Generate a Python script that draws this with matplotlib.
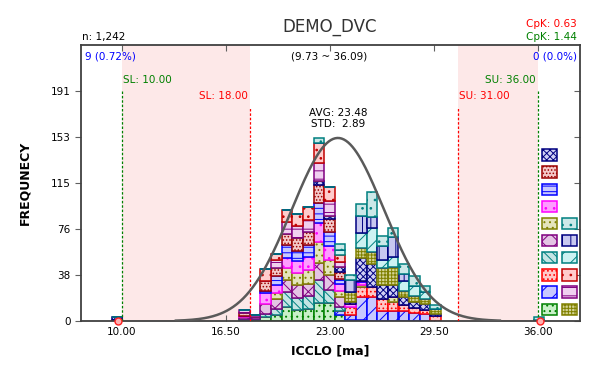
import numpy as np
import matplotlib
matplotlib.use("Agg")
import matplotlib.pyplot as plt
from matplotlib.patches import Rectangle

# histogram bins (centres)
bin_centers = [9.70, 17.65, 18.31, 18.98, 19.64, 20.30, 20.96, 21.63, 22.29, 22.95, 23.62,
               24.28, 24.94, 25.61, 26.27, 26.93, 27.60, 28.26, 28.92, 29.59, 36.05]
bin_width = 0.6625

# counts of each sub-group per bin
s01 = [2, 0, 0, 0, 0, 0, 0, 0, 3, 2, 4, 2, 19, 19, 12, 10, 7, 5, 5, 2, 1]
s02 = [0, 3, 0, 8, 7, 9, 11, 11, 15, 11, 6, 0, 0, 0, 0, 0, 0, 0, 0, 0, 0]
s03 = [0, 0, 0, 2, 7, 11, 8, 10, 17, 12, 4, 0, 1, 0, 0, 0, 0, 0, 0, 0, 0]
s04 = [0, 1, 0, 9, 7, 8, 10, 11, 15, 11, 6, 2, 2, 0, 0, 0, 0, 0, 0, 0, 0]
s05 = [0, 0, 0, 0, 5, 10, 10, 11, 18, 13, 5, 0, 2, 0, 0, 4, 0, 0, 0, 0, 0]
s06 = [0, 1, 1, 8, 8, 10, 11, 10, 14, 12, 8, 0, 0, 0, 0, 0, 0, 0, 0, 0, 0]
s07 = [0, 1, 1, 3, 5, 12, 10, 11, 19, 11, 4, 0, 0, 0, 0, 0, 0, 0, 0, 0, 0]
s08 = [1, 0, 0, 0, 0, 0, 0, 0, 0, 0, 0, 7, 8, 8, 10, 8, 5, 4, 3, 4, 0]
s09 = [0, 0, 0, 0, 0, 0, 0, 0, 0, 0, 3, 4, 19, 20, 8, 8, 8, 7, 6, 0, 0]
s10 = [0, 1, 1, 3, 5, 12, 9, 10, 15, 15, 5, 1, 1, 0, 0, 0, 0, 0, 0, 0, 0]
s11 = [0, 0, 0, 0, 0, 0, 0, 0, 4, 0, 5, 4, 10, 21, 9, 7, 8, 8, 5, 3, 2]
s12 = [0, 0, 0, 0, 0, 0, 0, 0, 0, 0, 0, 10, 14, 9, 11, 17, 6, 0, 0, 0, 0]
s13 = [0, 0, 0, 0, 0, 0, 0, 0, 0, 0, 4, 0, 12, 20, 7, 8, 8, 8, 6, 0, 0]
s14 = [0, 0, 0, 10, 5, 10, 10, 11, 17, 11, 6, 0, 0, 0, 0, 0, 0, 0, 0, 0, 0]
s15 = [0, 2, 2, 0, 7, 10, 10, 10, 15, 13, 4, 0, 0, 0, 0, 0, 0, 0, 0, 0, 0]
s16 = [0, 0, 0, 0, 0, 0, 0, 0, 0, 0, 0, 8, 9, 10, 14, 15, 5, 5, 4, 4, 0]

n_total = "1,242"
avg, std = 23.48, 2.89
data_min, data_max = 9.73, 36.09
sl_outer, su_outer = 10.00, 36.00
sl_inner, su_inner = 18.00, 31.00
x_ticks = [10.0, 16.5, 23.0, 29.5, 36.0]
y_ticks = [0, 38.2, 76.4, 114.6, 152.8, 191]
y_ticklabels = ["0", "38", "76", "115", "153", "191"]

# fill, edge, hatch
styles = {
    1: ("#d0d0f4", "#000080", "xxxxx"),
    2: ("#f4c8c8", "#9a0000", "....."),
    3: ("#c8c8ff", "#0000ff", "---"),
    4: ("#ff9cff", "#ff00ff", ".."),
    5: ("#e4e4bc", "#808000", "..."),
    6: ("#e4c4e4", "#800080", "xx"),
    7: ("#c4e4e4", "#008080", "\\\\\\\\"),
    8: ("#ffc8c8", "#ff0000", "...."),
    9: ("#c8c8ff", "#0000ff", "//"),
    10: ("#c8f0c8", "#008000", "..."),
    11: ("#cce8e8", "#008080", ".."),
    12: ("#c8c8f0", "#000080", "||"),
    13: ("#ccf2f2", "#008080", "//"),
    14: ("#ffcccc", "#c00000", ".."),
    15: ("#f0d0f0", "#800080", "--"),
    16: ("#d4d494", "#808000", "+++++"),
}
series = {1: s01, 2: s02, 3: s03, 4: s04, 5: s05, 6: s06, 7: s07, 8: s08,
          9: s09, 10: s10, 11: s11, 12: s12, 13: s13, 14: s14, 15: s15, 16: s16}
stack_order = [10, 9, 8, 7, 6, 5, 4, 3, 2, 1, 16, 15, 14, 13, 12, 11]

plt.rcParams['font.family'] = ['DejaVu Sans']
plt.rcParams['hatch.linewidth'] = 0.7

fig = plt.figure(figsize=(5.99, 3.70), dpi=100)
ax = fig.add_axes([0.1352, 0.1324, 0.8331, 0.7460])

ax.set_xlim(7.44, 38.6)
ax.set_ylim(0, 229.2)

# shaded out-of-spec zones
ax.axvspan(sl_outer, sl_inner, color="#fde8e8", zorder=0, lw=0)
ax.axvspan(su_inner, su_outer, color="#fde8e8", zorder=0, lw=0)

bottom = np.zeros(len(bin_centers))
for sid in stack_order:
    vals = np.array(series[sid], dtype=float)
    fc, ec, h = styles[sid]
    ax.bar(bin_centers, vals, width=bin_width, bottom=bottom, color=fc,
           edgecolor=ec, hatch=h, linewidth=1.1, zorder=2)
    bottom += vals

# normal curve scaled to the tallest bar
xs = np.linspace(avg - 3.5 * std, avg + 3.5 * std, 300)
peak = bottom.max()
ax.plot(xs, peak * np.exp(-0.5 * ((xs - avg) / std) ** 2), color="#5a5a5a", lw=1.8, zorder=4)

# spec lines
ax.vlines([sl_outer, su_outer], 0, 191, colors="#008000", linestyles=(0, (2, 1.5)), lw=0.9, zorder=3)
ax.vlines([sl_inner, su_inner], 0, 178, colors="#ff0000", linestyles=(0, (2, 1.5)), lw=0.9, zorder=3)
ax.text(sl_outer + 0.05, 200, "SL: 10.00", color="#008000", fontsize=7.5, ha="left", va="center")
ax.text(su_outer - 0.15, 200, "SU: 36.00", color="#008000", fontsize=7.5, ha="right", va="center")
ax.text(sl_inner - 0.15, 187, "SL: 18.00", color="#ff0000", fontsize=7.5, ha="right", va="center")
ax.text(su_inner + 0.05, 187, "SU: 31.00", color="#ff0000", fontsize=7.5, ha="left", va="center")

ax.text(avg, 173, "AVG: 23.48", fontsize=7.5, ha="center", va="center")
ax.text(avg, 163.5, "STD:  2.89", fontsize=7.5, ha="center", va="center")

# min / max markers
ax.plot([data_min, data_max], [0, 0], "o", ms=5, mfc="#ffb0b0", mec="#ff2020", mew=1,
        clip_on=False, zorder=6)

ax.text(0.008, 0.957, "9 (0.72%)", transform=ax.transAxes, color="#0000ff", fontsize=7.5,
        ha="left", va="center")
ax.text(0.994, 0.957, "0 (0.0%)", transform=ax.transAxes, color="#0000ff", fontsize=7.5,
        ha="right", va="center")
ax.text(0.497, 0.957, "(9.73 ~ 36.09)", transform=ax.transAxes, fontsize=7.5,
        ha="center", va="center")

# legend swatches
sw_w, sw_h, row_step = 0.029, 0.041, 0.0621
for sid in range(1, 17):
    fc, ec, h = styles[sid]
    if sid <= 10:
        col, row = 0, sid - 1
    else:
        col, row = 1, sid - 7
    x0 = 0.924 + col * 0.040
    y0 = 0.622 - row * row_step - sw_h
    ax.add_patch(Rectangle((x0, y0), sw_w, sw_h, transform=ax.transAxes, facecolor=fc,
                           edgecolor=ec, hatch=h, lw=1.1, zorder=5))

# axes styling
for sp in ax.spines.values():
    sp.set_color("#404040")
    sp.set_linewidth(1.3)
ax.set_xticks(x_ticks)
ax.set_xticklabels(["%.2f" % v for v in x_ticks])
ax.set_yticks(y_ticks)
ax.set_yticklabels(y_ticklabels)
ax.tick_params(axis="x", direction="in", top=True, length=4, color="#606060", labelsize=7.5, pad=4)
ax.tick_params(axis="y", direction="out", length=4, color="#606060", labelsize=7.5)
ax.tick_params(axis="y", which="both", right=True)
for t in ax.yaxis.get_ticklines()[1::2]:
    t.set_marker(0)  # right side pointing inward
ax.set_xlabel("ICCLO [ma]", fontsize=9, fontweight="bold", labelpad=6)
ax.set_ylabel("FREQUNECY", fontsize=9, fontweight="bold", labelpad=14)

fig.text(0.551, 0.927, "DEMO_DVC", fontsize=12, color="#333333", ha="center", va="center")
fig.text(0.137, 0.90, "n: " + n_total, fontsize=7.5, ha="left", va="center")
fig.text(0.963, 0.935, "CpK: 0.63", fontsize=7.5, color="#ff0000", ha="right", va="center")
fig.text(0.963, 0.90, "CpK: 1.44", fontsize=7.5, color="#008000", ha="right", va="center")

fig.savefig("out.png", dpi=100)
